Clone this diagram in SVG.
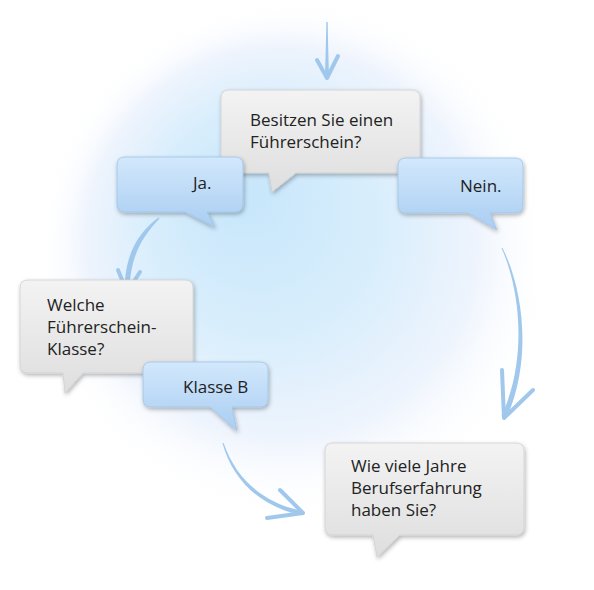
<svg xmlns="http://www.w3.org/2000/svg" width="594" height="590" viewBox="0 0 594 590">
<defs>
<radialGradient id="glow" cx="295" cy="260" r="260" fx="240" fy="190" gradientUnits="userSpaceOnUse">
<stop offset="0" stop-color="#c6e6fb"/>
<stop offset="0.45" stop-color="#d9eefc"/>
<stop offset="0.75" stop-color="#eef4fd"/>
<stop offset="1" stop-color="#ffffff" stop-opacity="0"/>
</radialGradient>
<linearGradient id="grey" x1="0" y1="0" x2="0" y2="1">
<stop offset="0" stop-color="#f3f3f3"/>
<stop offset="1" stop-color="#dedede"/>
</linearGradient>
<linearGradient id="blue" x1="0" y1="0" x2="0" y2="1">
<stop offset="0" stop-color="#d2e8fc"/>
<stop offset="1" stop-color="#a9cdf2"/>
</linearGradient>
<filter id="shadow" x="-10%" y="-10%" width="125%" height="135%">
<feDropShadow dx="1" dy="2" stdDeviation="2" flood-color="#000" flood-opacity="0.3"/>
</filter>
</defs>
<style>
.g{fill:url(#grey);stroke:#cfcfcf;stroke-width:0.8;filter:url(#shadow)}
.b{fill:url(#blue);stroke:#9fc3e6;stroke-width:0.8;filter:url(#shadow)}
.t{font-family:"Open Sans","Noto Sans","DejaVu Sans",sans-serif;font-size:17px;fill:#222}
.a{fill:none;stroke:#a0c8ec;stroke-width:4;stroke-linecap:round;stroke-linejoin:round}
.s{fill:#a0c8ec}
</style>
<rect width="594" height="590" fill="#fff"/>
<circle cx="295" cy="260" r="260" fill="url(#glow)"/>

<g id="connectors">
<path class="s" d="M326.3,22 L327.7,22 C328,45 328.6,60 329,77 L325,77 C325.4,60 326,45 326.3,22 Z"/>
<path class="a" d="M317,60 L327,78 L338,56"/>
<path class="s" d="M159.5,218.5 C142,237 130.5,256 129.5,290 L124.5,290 C125,254 138,233 158.5,217.5 Z"/>
<path class="a" d="M118,270 L127,292 L140,272"/>
<path class="s" d="M502.5,248 C523.5,290 532.5,360 506.5,418 L501.5,416 C527.5,360 520.5,290 501.5,248 Z"/>
<path class="a" d="M502,370 L504,418 L533,390"/>
<path class="s" d="M223.6,443 C236,479 263,503 302,510.8 L302,515.2 C261,507 233,481 222.4,443 Z"/>
<path class="a" d="M280,490 L303,513 L267,518"/>
</g>

<g id="q1">
<path class="g" d="M229,90 H412 Q420,90 420,98 V165 Q420,173 412,173 H296 L272,192 L269,173 H229 Q221,173 221,165 V98 Q221,90 229,90 Z"/>
<text class="t"><tspan x="250" y="126">Besitzen Sie einen</tspan><tspan x="250" y="148">Führerschein?</tspan></text>
</g>

<g id="ja">
<path class="b" d="M125,157 H235 Q243,157 243,165 V204 Q243,212 235,212 H207 L215,227 L185,212 H125 Q117,212 117,204 V165 Q117,157 125,157 Z"/>
<text class="t" x="193" y="189">Ja.</text>
</g>

<g id="nein">
<path class="b" d="M406,158 H515 Q523,158 523,166 V205 Q523,213 515,213 H490 L497,230 L468,213 H406 Q398,213 398,205 V166 Q398,158 406,158 Z"/>
<text class="t" x="460" y="192">Nein.</text>
</g>

<g id="q2">
<path class="g" d="M28,280 H185 Q193,280 193,288 V365 Q193,373 185,373 H83 L65,393 L63,373 H28 Q20,373 20,365 V288 Q20,280 28,280 Z"/>
<text class="t"><tspan x="47" y="311">Welche</tspan><tspan x="47" y="333">Führerschein-</tspan><tspan x="47" y="355">Klasse?</tspan></text>
</g>

<g id="klasseb">
<path class="b" d="M151,362 H260 Q268,362 268,370 V399 Q268,407 260,407 H232 L237,431 L210,407 H151 Q143,407 143,399 V370 Q143,362 151,362 Z"/>
<text class="t" x="183" y="393">Klasse B</text>
</g>

<g id="q3">
<path class="g" d="M333,443 H516 Q524,443 524,451 V527 Q524,535 516,535 H400 L377,557 L373,535 H333 Q325,535 325,527 V451 Q325,443 333,443 Z"/>
<text class="t"><tspan x="351" y="472">Wie viele Jahre</tspan><tspan x="351" y="494">Berufserfahrung</tspan><tspan x="351" y="516">haben Sie?</tspan></text>
</g>
</svg>
